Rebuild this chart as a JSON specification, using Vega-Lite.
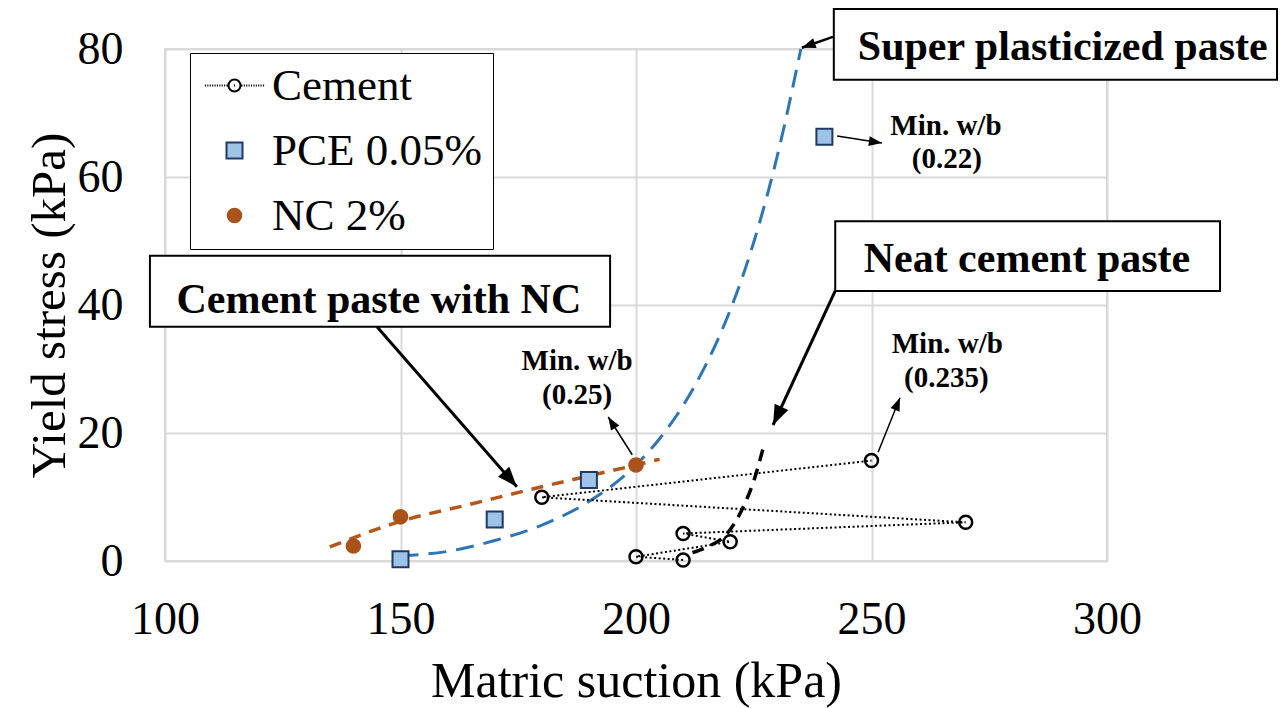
{
  "$schema": "https://vega.github.io/schema/vega-lite/v6.json",
  "width": 942,
  "height": 512,
  "autosize": {"type": "none"},
  "padding": {"left": 165, "top": 49, "right": 174, "bottom": 147},
  "background": "white",
  "config": {
    "view": {"stroke": "#D9D9D9", "strokeWidth": 2},
    "font": "Liberation Serif"
  },
  "datasets": {
    "pts": [
      {"series": "Cement", "seq": 1, "x": 210, "y": 0.16},
      {"series": "Cement", "seq": 2, "x": 200, "y": 0.67},
      {"series": "Cement", "seq": 3, "x": 220, "y": 3.0},
      {"series": "Cement", "seq": 4, "x": 210, "y": 4.3},
      {"series": "Cement", "seq": 5, "x": 270, "y": 6.05},
      {"series": "Cement", "seq": 6, "x": 180, "y": 9.95},
      {"series": "Cement", "seq": 7, "x": 250, "y": 15.7},
      {"series": "PCE 0.05%", "seq": 1, "x": 150, "y": 0.27},
      {"series": "PCE 0.05%", "seq": 2, "x": 170, "y": 6.5},
      {"series": "PCE 0.05%", "seq": 3, "x": 190, "y": 12.65},
      {"series": "PCE 0.05%", "seq": 4, "x": 240, "y": 66.3},
      {"series": "NC 2%", "seq": 1, "x": 140, "y": 2.35},
      {"series": "NC 2%", "seq": 2, "x": 150, "y": 6.9},
      {"series": "NC 2%", "seq": 3, "x": 200, "y": 15.0}
    ],
    "curves": [
      {"curve": "sp", "x": 150, "y": 0.8},
      {"curve": "sp", "x": 160, "y": 1.5},
      {"curve": "sp", "x": 170, "y": 3.2},
      {"curve": "sp", "x": 180, "y": 5.6},
      {"curve": "sp", "x": 190, "y": 9.3},
      {"curve": "sp", "x": 200, "y": 15.0},
      {"curve": "sp", "x": 205, "y": 19.1},
      {"curve": "sp", "x": 210, "y": 24.3},
      {"curve": "sp", "x": 215, "y": 30.9},
      {"curve": "sp", "x": 220, "y": 39.2},
      {"curve": "sp", "x": 225, "y": 49.8},
      {"curve": "sp", "x": 230, "y": 63.3},
      {"curve": "sp", "x": 235, "y": 80.0},
      {"curve": "nc", "x": 135, "y": 2.2},
      {"curve": "nc", "x": 150, "y": 6.2},
      {"curve": "nc", "x": 165, "y": 8.9},
      {"curve": "nc", "x": 180, "y": 11.6},
      {"curve": "nc", "x": 190, "y": 13.3},
      {"curve": "nc", "x": 200, "y": 15.0},
      {"curve": "nc", "x": 205, "y": 15.9},
      {"curve": "neat", "x": 212, "y": 1.3},
      {"curve": "neat", "x": 216, "y": 2.5},
      {"curve": "neat", "x": 219, "y": 4.0},
      {"curve": "neat", "x": 221, "y": 6.0},
      {"curve": "neat", "x": 223, "y": 8.8},
      {"curve": "neat", "x": 225, "y": 12.5},
      {"curve": "neat", "x": 227.2, "y": 18.2}
    ],
    "arrows": [
      {"id": "sp", "x": 241.8, "y": 81.9, "x2": 235.2, "y2": 80.2},
      {"id": "neat", "x": 242.3, "y": 42.2, "x2": 229.1, "y2": 21.25},
      {"id": "nc", "x": 145.0, "y": 36.6, "x2": 174.7, "y2": 11.6},
      {"id": "w025", "x": 199.2, "y": 16.6, "x2": 194.1, "y2": 22.5},
      {"id": "w0235", "x": 251.4, "y": 17.0, "x2": 256.05, "y2": 25.5},
      {"id": "w022", "x": 242.7, "y": 66.4, "x2": 252.2, "y2": 65.3}
    ],
    "heads": [
      {"id": "sp", "x": 235.2, "y": 80.2},
      {"id": "neat", "x": 229.1, "y": 21.25},
      {"id": "nc", "x": 174.7, "y": 11.6},
      {"id": "w025", "x": 194.1, "y": 22.5},
      {"id": "w0235", "x": 256.05, "y": 25.5},
      {"id": "w022", "x": 252.2, "y": 65.3}
    ],
    "boxes": [
      {"id": "sp", "x": 242.0, "x2": 336.1, "y": 75.2, "y2": 86.25},
      {"id": "neat", "x": 242.3, "x2": 324.0, "y": 42.2, "y2": 53.1},
      {"id": "nc", "x": 96.8, "x2": 194.5, "y": 36.6, "y2": 47.7}
    ],
    "labels": [
      {"label": "Super plasticized paste", "x": 290.6, "y": 78.3},
      {"label": "Neat cement paste", "x": 283.0, "y": 45.2},
      {"label": "Cement paste with NC", "x": 145.4, "y": 38.75}
    ],
    "notes": [
      {"label": "Min. w/b", "x": 187.5, "y": 29.8},
      {"label": "(0.25)", "x": 187.5, "y": 24.5},
      {"label": "Min. w/b", "x": 266.1, "y": 32.5},
      {"label": "(0.235)", "x": 265.9, "y": 27.2},
      {"label": "Min. w/b", "x": 265.8, "y": 66.6},
      {"label": "(0.22)", "x": 266.0, "y": 61.4}
    ]
  },
  "encoding": {
    "x": {
      "field": "x",
      "type": "quantitative",
      "scale": {"domain": [100, 300], "nice": false, "zero": false},
      "axis": {
        "values": [100, 150, 200, 250, 300],
        "grid": true,
        "gridColor": "#D9D9D9",
        "gridWidth": 2,
        "domain": false,
        "ticks": false,
        "labelFont": "Liberation Serif",
        "labelFontSize": 46,
        "labelColor": "black",
        "labelPadding": 36,
        "labelFlush": false,
        "labelOverlap": false,
        "title": "Matric suction (kPa)",
        "titleFont": "Liberation Serif",
        "titleFontSize": 50,
        "titleFontWeight": "normal",
        "titleColor": "black",
        "titlePadding": 14
      }
    },
    "y": {
      "field": "y",
      "type": "quantitative",
      "scale": {"domain": [0, 80], "nice": false},
      "axis": {
        "values": [0, 20, 40, 60, 80],
        "grid": true,
        "gridColor": "#D9D9D9",
        "gridWidth": 2,
        "domain": false,
        "ticks": false,
        "labelFont": "Liberation Serif",
        "labelFontSize": 46,
        "labelColor": "black",
        "labelPadding": 42,
        "labelFlush": false,
        "labelOverlap": false,
        "title": "Yield stress (kPa)",
        "titleFont": "Liberation Serif",
        "titleFontSize": 49,
        "titleFontWeight": "normal",
        "titleColor": "black",
        "titlePadding": 3
      }
    }
  },
  "layer": [
    {
      "data": {"name": "curves"},
      "transform": [{"filter": "datum.curve === 'sp'"}],
      "mark": {"type": "line", "color": "#2E75B6", "strokeWidth": 3, "strokeDash": [18, 10], "interpolate": "monotone"}
    },
    {
      "data": {"name": "curves"},
      "transform": [{"filter": "datum.curve === 'nc'"}],
      "mark": {"type": "line", "color": "#B5561A", "strokeWidth": 3.5, "strokeDash": [12, 9], "interpolate": "monotone"}
    },
    {
      "data": {"name": "curves"},
      "transform": [{"filter": "datum.curve === 'neat'"}],
      "mark": {"type": "line", "color": "black", "strokeWidth": 3.5, "strokeDash": [12, 8], "interpolate": "monotone"}
    },
    {
      "data": {"name": "pts"},
      "transform": [{"filter": "datum.series === 'Cement'"}],
      "mark": {"type": "line", "color": "black", "strokeWidth": 2, "strokeDash": [2, 2.5]},
      "encoding": {"order": {"field": "seq", "type": "quantitative"}}
    },
    {
      "data": {"name": "pts"},
      "transform": [{"filter": "datum.series === 'Cement'"}],
      "mark": {"type": "point", "shape": "circle", "size": 169, "strokeWidth": 2.5, "color": "black", "opacity": 1, "filled": false}
    },
    {
      "data": {"name": "pts"},
      "transform": [{"filter": "datum.series !== 'Cement'"}],
      "mark": {"type": "point", "size": 256, "strokeWidth": 2, "opacity": 1},
      "encoding": {
        "shape": {
          "field": "series",
          "type": "nominal",
          "scale": {
            "domain": ["Cement", "PCE 0.05%", "NC 2%"],
            "range": [
              "M-3.7,0h0.14M-3.4,0h0.14M-3.1,0h0.14M-2.8,0h0.14M-2.5,0h0.14M-2.2,0h0.14M-1.9,0h0.14M-1.6,0h0.14M-1.3,0h0.14M-1.0,0h0.14M-0.07,0h0.14M0.86,0h0.14M1.16,0h0.14M1.46,0h0.14M1.76,0h0.14M2.06,0h0.14M2.36,0h0.14M2.66,0h0.14M2.96,0h0.14M3.26,0h0.14M3.56,0h0.14M0.75,0C0.75,0.414,0.414,0.75,0,0.75C-0.414,0.75,-0.75,0.414,-0.75,0C-0.75,-0.414,-0.414,-0.75,0,-0.75C0.414,-0.75,0.75,-0.414,0.75,0Z",
              "M-1,-1H1V1H-1Z",
              "M0.85,0C0.85,0.469,0.469,0.85,0,0.85C-0.469,0.85,-0.85,0.469,-0.85,0C-0.85,-0.469,-0.469,-0.85,0,-0.85C0.469,-0.85,0.85,-0.469,0.85,0Z"
            ]
          },
          "legend": {
            "title": null,
            "orient": "none",
            "legendX": 25,
            "legendY": 4,
            "padding": 10,
            "fillColor": "white",
            "strokeColor": "black",
            "symbolSize": 256,
            "symbolStrokeWidth": 2,
            "symbolOffset": 12,
            "labelOffset": 15,
            "rowPadding": 19,
            "labelFont": "Liberation Serif",
            "labelFontSize": 45,
            "labelColor": "black",
            "labelLimit": 0,
            "encode": {"legend": {"strokeWidth": {"value": 2}}}
          }
        },
        "fill": {
          "field": "series",
          "type": "nominal",
          "scale": {"domain": ["Cement", "PCE 0.05%", "NC 2%"], "range": ["transparent", "#9DC3E6", "#A95219"]},
          "legend": {
            "title": null,
            "orient": "none",
            "legendX": 25,
            "legendY": 4,
            "padding": 10,
            "fillColor": "white",
            "strokeColor": "black",
            "symbolSize": 256,
            "symbolStrokeWidth": 2,
            "symbolOffset": 12,
            "labelOffset": 15,
            "rowPadding": 19,
            "labelFont": "Liberation Serif",
            "labelFontSize": 45,
            "labelColor": "black",
            "labelLimit": 0
          }
        },
        "stroke": {
          "field": "series",
          "type": "nominal",
          "scale": {"domain": ["Cement", "PCE 0.05%", "NC 2%"], "range": ["black", "#203864", "#A95219"]},
          "legend": {
            "title": null,
            "orient": "none",
            "legendX": 25,
            "legendY": 4,
            "padding": 10,
            "fillColor": "white",
            "strokeColor": "black",
            "symbolSize": 256,
            "symbolStrokeWidth": 2,
            "symbolOffset": 12,
            "labelOffset": 15,
            "rowPadding": 19,
            "labelFont": "Liberation Serif",
            "labelFontSize": 45,
            "labelColor": "black",
            "labelLimit": 0
          }
        }
      }
    },
    {
      "data": {"name": "arrows"},
      "transform": [{"filter": "datum.id === 'neat' || datum.id === 'nc'"}],
      "mark": {"type": "rule", "color": "black", "strokeWidth": 3},
      "encoding": {"x2": {"field": "x2"}, "y2": {"field": "y2"}}
    },
    {
      "data": {"name": "arrows"},
      "transform": [{"filter": "datum.id === 'sp'"}],
      "mark": {"type": "rule", "color": "black", "strokeWidth": 2.5},
      "encoding": {"x2": {"field": "x2"}, "y2": {"field": "y2"}}
    },
    {
      "data": {"name": "arrows"},
      "transform": [{"filter": "datum.id === 'w025' || datum.id === 'w0235' || datum.id === 'w022'"}],
      "mark": {"type": "rule", "color": "black", "strokeWidth": 1.5},
      "encoding": {"x2": {"field": "x2"}, "y2": {"field": "y2"}}
    },
    {
      "data": {"name": "heads"},
      "transform": [{"filter": "datum.id === 'sp'"}],
      "mark": {"type": "point", "shape": "M0,0L-0.6,1.6L0.6,1.6Z", "size": 300, "angle": 250.5, "filled": true, "color": "black", "opacity": 1, "strokeWidth": 0}
    },
    {
      "data": {"name": "heads"},
      "transform": [{"filter": "datum.id === 'neat'"}],
      "mark": {"type": "point", "shape": "M0,0L-0.6,1.6L0.6,1.6Z", "size": 625, "angle": 204.8, "filled": true, "color": "black", "opacity": 1, "strokeWidth": 0}
    },
    {
      "data": {"name": "heads"},
      "transform": [{"filter": "datum.id === 'nc'"}],
      "mark": {"type": "point", "shape": "M0,0L-0.6,1.6L0.6,1.6Z", "size": 625, "angle": 138.8, "filled": true, "color": "black", "opacity": 1, "strokeWidth": 0}
    },
    {
      "data": {"name": "heads"},
      "transform": [{"filter": "datum.id === 'w025'"}],
      "mark": {"type": "point", "shape": "M0,0L-0.6,1.6L0.6,1.6Z", "size": 264, "angle": 327.7, "filled": true, "color": "black", "opacity": 1, "strokeWidth": 0}
    },
    {
      "data": {"name": "heads"},
      "transform": [{"filter": "datum.id === 'w0235'"}],
      "mark": {"type": "point", "shape": "M0,0L-0.6,1.6L0.6,1.6Z", "size": 264, "angle": 22.2, "filled": true, "color": "black", "opacity": 1, "strokeWidth": 0}
    },
    {
      "data": {"name": "heads"},
      "transform": [{"filter": "datum.id === 'w022'"}],
      "mark": {"type": "point", "shape": "M0,0L-0.6,1.6L0.6,1.6Z", "size": 264, "angle": 98.9, "filled": true, "color": "black", "opacity": 1, "strokeWidth": 0}
    },
    {
      "data": {"name": "boxes"},
      "mark": {"type": "rect", "fill": "white", "stroke": "black", "strokeWidth": 2},
      "encoding": {"x2": {"field": "x2"}, "y2": {"field": "y2"}}
    },
    {
      "data": {"name": "labels"},
      "mark": {"type": "text", "font": "Liberation Serif", "fontWeight": "bold", "fontSize": 42, "align": "center", "baseline": "alphabetic", "color": "black"},
      "encoding": {"text": {"field": "label"}}
    },
    {
      "data": {"name": "notes"},
      "mark": {"type": "text", "font": "Liberation Serif", "fontWeight": "bold", "fontSize": 29, "align": "center", "baseline": "alphabetic", "color": "black"},
      "encoding": {"text": {"field": "label"}}
    }
  ]
}
